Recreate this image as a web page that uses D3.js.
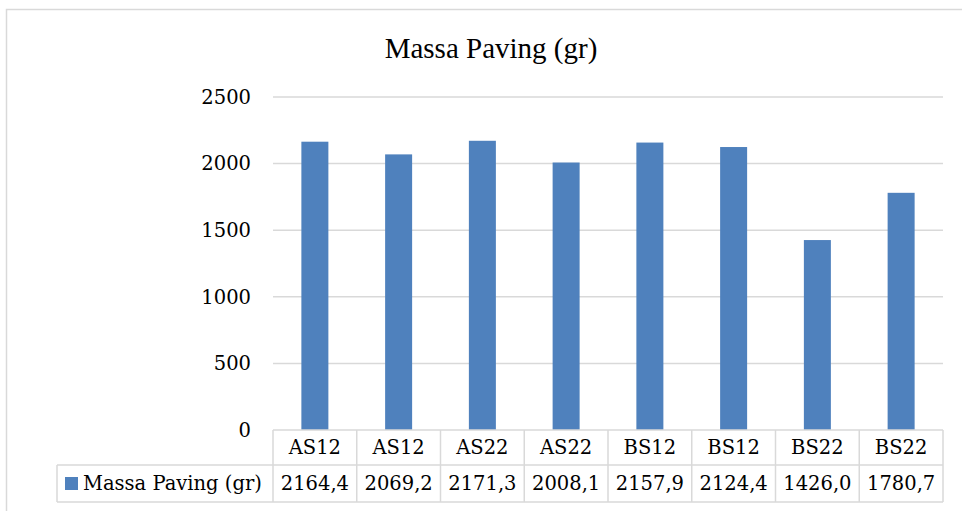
<!DOCTYPE html>
<html>
<head>
<meta charset="utf-8">
<script src="https://cdn.jsdelivr.net/npm/d3@7"></script>
<style>
  body { margin: 0; background: #fff; }
  svg { display: block; }
</style>
</head>
<body>
<svg id="chart" width="962" height="511"></svg>
<script>
var categories = ['AS12', 'AS12', 'AS22', 'AS22', 'BS12', 'BS12', 'BS22', 'BS22'];
var values = [2164.4, 2069.2, 2171.3, 2008.1, 2157.9, 2124.4, 1426.0, 1780.7];
var valueLabels = ['2164,4', '2069,2', '2171,3', '2008,1', '2157,9', '2124,4', '1426,0', '1780,7'];
var yTicks = [0, 500, 1000, 1500, 2000, 2500];
var seriesName = 'Massa Paving (gr)';

var svg = d3.select('#chart');
var plotLeft = 273, plotRight = 943, plotTop = 97, plotBottom = 430;
var row1 = 465, row2 = 502, legendLeft = 57;
var grid = '#d9d9d9', blue = '#4f81bd';
var tickFont = '"DejaVu Serif", serif';
var tickSize = '19.5px';

// outer chart frame (runs off the right and bottom edge)
svg.append('rect')
    .attr('x', 6.5).attr('y', 9.5)
    .attr('width', 1000).attr('height', 600)
    .attr('fill', 'none').attr('stroke', grid).attr('stroke-width', 1.5);

svg.append('text')
    .attr('x', 491).attr('y', 58)
    .attr('text-anchor', 'middle')
    .style('font-family', '"Liberation Serif", "Times New Roman", serif')
    .style('font-size', '29px')
    .text(seriesName);

var x = d3.scaleBand().domain(d3.range(categories.length)).range([plotLeft, plotRight]);
var y = d3.scaleLinear().domain([0, 2500]).range([plotBottom, plotTop]);

// gridlines
svg.append('g').selectAll('line').data(yTicks.slice(1)).join('line')
    .attr('x1', plotLeft).attr('x2', plotRight)
    .attr('y1', function(d){ return y(d); }).attr('y2', function(d){ return y(d); })
    .attr('stroke', grid).attr('stroke-width', 1.5);

// y labels
svg.append('g').selectAll('text').data(yTicks).join('text')
    .attr('x', 251).attr('y', function(d){ return y(d); })
    .attr('dy', '0.35em')
    .attr('text-anchor', 'end')
    .style('font-family', tickFont).style('font-size', tickSize)
    .text(function(d){ return d; });

// bars
var barW = 27;
svg.append('g').selectAll('rect').data(values).join('rect')
    .attr('x', function(d, i){ return x(i) + x.bandwidth() / 2 - barW / 2; })
    .attr('y', function(d){ return y(d); })
    .attr('width', barW)
    .attr('height', function(d){ return y(0) - y(d); })
    .attr('fill', blue);

// data table
var tbl = svg.append('g').attr('stroke', grid).attr('stroke-width', 1.5).attr('fill', 'none');
tbl.append('line').attr('x1', plotLeft).attr('x2', plotRight).attr('y1', plotBottom).attr('y2', plotBottom);
tbl.append('line').attr('x1', legendLeft).attr('x2', plotRight).attr('y1', row1).attr('y2', row1);
tbl.append('line').attr('x1', legendLeft).attr('x2', plotRight).attr('y1', row2).attr('y2', row2);
tbl.append('line').attr('x1', legendLeft).attr('x2', legendLeft).attr('y1', row1).attr('y2', row2);
tbl.selectAll('line.col').data(d3.range(categories.length + 1)).join('line')
    .attr('class', 'col')
    .attr('x1', function(i){ return plotLeft + i * x.bandwidth(); })
    .attr('x2', function(i){ return plotLeft + i * x.bandwidth(); })
    .attr('y1', plotBottom).attr('y2', row2);

svg.append('g').selectAll('text').data(categories).join('text')
    .attr('x', function(d, i){ return x(i) + x.bandwidth() / 2; })
    .attr('y', (plotBottom + row1) / 2).attr('dy', '0.35em')
    .attr('text-anchor', 'middle')
    .style('font-family', tickFont).style('font-size', tickSize)
    .text(function(d){ return d; });

svg.append('g').selectAll('text').data(valueLabels).join('text')
    .attr('x', function(d, i){ return x(i) + x.bandwidth() / 2; })
    .attr('y', (row1 + row2) / 2).attr('dy', '0.35em')
    .attr('text-anchor', 'middle')
    .style('font-family', tickFont).style('font-size', tickSize)
    .text(function(d){ return d; });

// legend key
svg.append('rect').attr('x', 65).attr('y', 477).attr('width', 13).attr('height', 13).attr('fill', blue);
svg.append('text')
    .attr('x', 83).attr('y', (row1 + row2) / 2).attr('dy', '0.35em')
    .style('font-family', tickFont).style('font-size', tickSize)
    .text(seriesName);
</script>
</body>
</html>
